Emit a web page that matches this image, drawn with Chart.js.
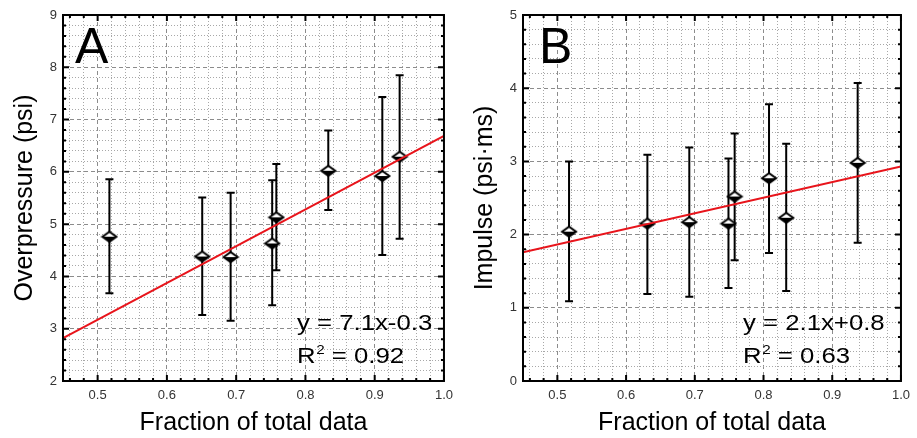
<!DOCTYPE html>
<html>
<head>
<meta charset="utf-8">
<script src="https://cdn.jsdelivr.net/npm/chart.js@4.4.1/dist/chart.umd.min.js"></script>
<style>
  html, body { margin: 0; padding: 0; background: #fff; }
  #wrap { position: relative; width: 917px; height: 438px; }
  canvas { position: absolute; top: 0; }
</style>
</head>
<body>
<div id="wrap">
  <canvas id="chartA" width="460" height="438" style="left:0"></canvas>
  <canvas id="chartB" width="457" height="438" style="left:460px"></canvas>
</div>
<script>
// ---- panel A : overpressure
const fractionA = [0.517, 0.651, 0.692, 0.752, 0.758, 0.833, 0.911, 0.936];
const overpressure = [4.76, 4.38, 4.37, 4.63, 5.13, 6.02, 5.92, 6.29];
const overpressureLow = [3.68, 3.26, 3.15, 3.45, 4.12, 5.27, 4.41, 4.72];
const overpressureHigh = [5.86, 5.51, 5.60, 5.84, 6.15, 6.79, 7.43, 7.85];

// ---- panel B : impulse
const fractionB = [0.517, 0.631, 0.692, 0.749, 0.758, 0.808, 0.833, 0.937];
const impulse = [2.04, 2.15, 2.17, 2.15, 2.52, 2.77, 2.23, 2.98];
const impulseLow = [1.09, 1.19, 1.15, 1.27, 1.65, 1.75, 1.23, 1.89];
const impulseHigh = [3.00, 3.09, 3.19, 3.04, 3.38, 3.78, 3.24, 4.07];

// fitted lines, end values at the edges of the x range
const fitX = [0.45, 1.0];
const fitA = [2.82, 6.69];
const fitB = [1.76, 2.93];

const FONT = '"Liberation Sans", Arial, sans-serif';
Chart.defaults.font.family = FONT;

const isMult = (v, step) => Math.abs(v / step - Math.round(v / step)) < 1e-6;
const inRange = (s, v) => v >= s.min - 1e-9 && v <= s.max + 1e-9;

function diamondMarker() {
  const c = document.createElement('canvas');
  c.width = 18; c.height = 14;
  const g = c.getContext('2d');
  const cx = 9, cy = 7, hw = 7, hh = 5;
  g.beginPath(); g.moveTo(cx - hw, cy); g.lineTo(cx, cy - hh); g.lineTo(cx + hw, cy); g.closePath();
  g.fillStyle = '#fff'; g.fill();
  g.beginPath(); g.moveTo(cx - hw, cy); g.lineTo(cx, cy + hh); g.lineTo(cx + hw, cy); g.closePath();
  g.fillStyle = '#000'; g.fill();
  g.beginPath(); g.moveTo(cx - hw, cy); g.lineTo(cx, cy - hh); g.lineTo(cx + hw, cy); g.lineTo(cx, cy + hh); g.closePath();
  g.lineWidth = 2; g.lineJoin = 'miter'; g.strokeStyle = '#000'; g.stroke();
  return c;
}
const marker = diamondMarker();

// vertical error bars with caps, under the markers
const errorBars = {
  id: 'errorBars',
  beforeDatasetsDraw(chart) {
    const { ctx, scales: { x, y } } = chart;
    ctx.save();
    ctx.strokeStyle = '#000';
    ctx.lineWidth = 2;
    chart.data.datasets.forEach(ds => {
      if (!ds.errLow) return;
      ds.data.forEach((pt, i) => {
        const px = x.getPixelForValue(pt.x);
        const lo = y.getPixelForValue(ds.errLow[i]);
        const hi = y.getPixelForValue(ds.errHigh[i]);
        ctx.beginPath();
        ctx.moveTo(px, lo); ctx.lineTo(px, hi);
        ctx.moveTo(px - 4, lo); ctx.lineTo(px + 4, lo);
        ctx.moveTo(px - 4, hi); ctx.lineTo(px + 4, hi);
        ctx.stroke();
      });
    });
    ctx.restore();
  }
};

// box frame with inward ticks
const frame = {
  id: 'frame',
  afterDraw(chart) {
    const { ctx, chartArea: a, scales } = chart;
    ctx.save();
    ctx.strokeStyle = '#000';
    ctx.lineWidth = 2;
    const marks = (scale, len) => {
      scale.ticks.forEach(t => {
        const p = scale.getPixelForValue(t.value);
        ctx.beginPath();
        if (scale.isHorizontal()) {
          ctx.moveTo(p, a.bottom); ctx.lineTo(p, a.bottom - len);
          ctx.moveTo(p, a.top); ctx.lineTo(p, a.top + len);
        } else {
          ctx.moveTo(a.left, p); ctx.lineTo(a.left + len, p);
          ctx.moveTo(a.right, p); ctx.lineTo(a.right - len, p);
        }
        ctx.stroke();
      });
    };
    marks(scales.x, 6); marks(scales.y, 6);
    marks(scales.xm, 3); marks(scales.ym, 3);
    ctx.strokeRect(a.left, a.top, a.width, a.height);
    ctx.restore();
  }
};

// panel letter and fit equation
const panelText = {
  id: 'panelText',
  afterDraw(chart, args, opts) {
    const { ctx, chartArea: a } = chart;
    ctx.save();
    ctx.fillStyle = '#000';
    ctx.textBaseline = 'alphabetic';
    ctx.font = '50px ' + FONT;
    ctx.fillText(opts.letter, a.left + opts.letterDx, a.top + 48);

    const sx = 1.17;
    ctx.translate(a.left + opts.eqDx, a.top + 315);
    ctx.scale(sx, 1);
    ctx.font = '22px ' + FONT;
    ctx.fillText(opts.equation, 0, 0);
    ctx.translate(0, 33);
    ctx.fillText('R', 0, 0);
    let w = ctx.measureText('R').width;
    ctx.font = '13px ' + FONT;
    ctx.fillText('2', w + 0.5, -9);
    w += ctx.measureText('2').width + 0.5;
    ctx.font = '22px ' + FONT;
    ctx.fillText(' = ' + opts.r2, w, 0);
    ctx.restore();
  }
};

function makeChart(id, cfg) {
  const points = cfg.xs.map((x, i) => ({ x, y: cfg.ys[i] }));
  const fit = fitX.map((x, i) => ({ x, y: cfg.fit[i] }));
  const keep = step => s => { s.ticks = s.ticks.filter(t => inRange(s, t.value) && isMult(t.value, step)); };
  const keepMinor = (step, major) => s => {
    s.ticks = s.ticks.filter(t => inRange(s, t.value) && isMult(t.value, step) && !isMult(t.value, major));
  };
  return new Chart(document.getElementById(id), {
    type: 'scatter',
    data: {
      datasets: [
        {
          type: 'line',
          data: fit,
          borderColor: '#e8141b',
          borderWidth: 2,
          pointRadius: 0,
          order: 0
        },
        {
          data: points,
          errLow: cfg.lo,
          errHigh: cfg.hi,
          pointStyle: marker,
          pointRadius: 7,
          order: 1
        }
      ]
    },
    options: {
      responsive: false,
      animation: false,
      layout: { padding: { top: 15, right: cfg.padRight, bottom: 0, left: 0 } },
      plugins: {
        legend: { display: false },
        tooltip: { enabled: false },
        panelText: cfg.text
      },
      scales: {
        x: {
          type: 'linear', min: 0.45, max: 1.0,
          afterBuildTicks: keep(0.1),
          afterFit: s => { s.height = 57; },
          ticks: { stepSize: 0.1, includeBounds: false, callback: v => v.toFixed(1), font: { size: 13 }, color: '#333', padding: 7, maxRotation: 0, autoSkip: false },
          grid: { color: '#8c8c8c', lineWidth: 1, drawTicks: false },
          border: { display: false, dash: [4, 3] },
          title: { display: true, text: 'Fraction of total data', font: { size: 25 }, color: '#000', padding: 0 }
        },
        y: {
          type: 'linear', min: cfg.yMin, max: cfg.yMax,
          afterBuildTicks: keep(1),
          afterFit: s => { s.width = 63; },
          ticks: { stepSize: 1, includeBounds: false, font: { size: 13 }, color: '#333', padding: 6 },
          grid: { color: '#8c8c8c', lineWidth: 1, drawTicks: false },
          border: { display: false, dash: [4, 3] },
          title: { display: true, text: cfg.yTitle, font: { size: 25 }, color: '#000', padding: { top: 10, bottom: 0 } }
        },
        xm: {
          type: 'linear', position: 'top', min: 0.45, max: 1.0,
          afterBuildTicks: keepMinor(0.02, 0.1),
          afterFit: s => { s.height = 0; },
          ticks: { display: false, stepSize: 0.02, includeBounds: false, maxTicksLimit: 100 },
          grid: { color: '#a8a8a8', lineWidth: 1, drawTicks: false },
          border: { display: false, dash: [1, 2] }
        },
        ym: {
          type: 'linear', position: 'right', min: cfg.yMin, max: cfg.yMax,
          afterBuildTicks: keepMinor(0.2, 1),
          afterFit: s => { s.width = 0; },
          ticks: { display: false, stepSize: 0.2, includeBounds: false, maxTicksLimit: 100 },
          grid: { color: '#a8a8a8', lineWidth: 1, drawTicks: false },
          border: { display: false, dash: [1, 2] }
        }
      }
    },
    plugins: [errorBars, frame, panelText]
  });
}

makeChart('chartA', {
  xs: fractionA, ys: overpressure, lo: overpressureLow, hi: overpressureHigh,
  fit: fitA, yMin: 2, yMax: 9, yTitle: 'Overpressure (psi)', padRight: 13,
  text: { letter: 'A', letterDx: 12, equation: 'y = 7.1x-0.3', r2: '0.92', eqDx: 234 }
});

makeChart('chartB', {
  xs: fractionB, ys: impulse, lo: impulseLow, hi: impulseHigh,
  fit: fitB, yMin: 0, yMax: 5, yTitle: 'Impulse (psi·ms)', padRight: 10,
  text: { letter: 'B', letterDx: 16, equation: 'y = 2.1x+0.8', r2: '0.63', eqDx: 220 }
});
</script>
</body>
</html>
